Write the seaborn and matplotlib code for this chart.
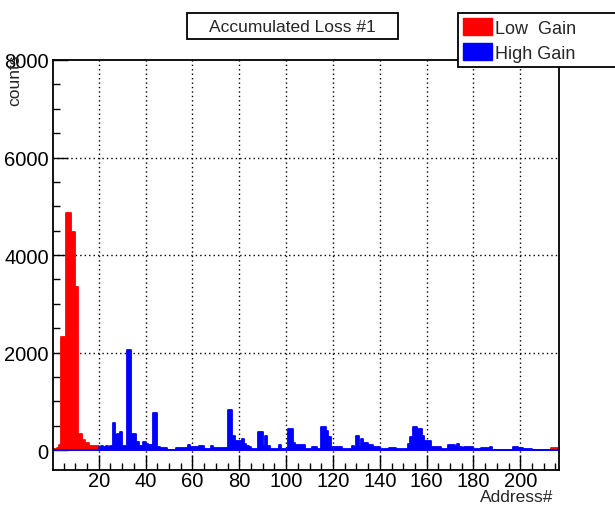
import numpy as np
import pandas as pd
import matplotlib
matplotlib.use("Agg")
import matplotlib.pyplot as plt
from matplotlib.patches import Patch, Rectangle
from matplotlib.ticker import MultipleLocator
import seaborn as sns

# ---------------- data ----------------
addresses = list(range(0, 217))

low_gain = [
    0, 30, 40, 110, 2310, 2310, 4860, 4860, 4480, 4480,
    3340, 330, 330, 200, 150, 150, 80, 80, 80, 80,
    0, 0, 0, 0, 0, 0, 0, 0, 0, 0,
    0, 0, 0, 0, 0, 0, 0, 0, 0, 0,
    0, 0, 0, 0, 0, 0, 0, 0, 0, 0,
    0, 0, 0, 0, 0, 0, 0, 0, 0, 0,
    0, 0, 0, 0, 0, 0, 0, 0, 0, 0,
    0, 0, 0, 0, 0, 0, 0, 0, 0, 0,
    0, 0, 0, 0, 0, 0, 0, 0, 0, 0,
    0, 0, 0, 0, 0, 0, 0, 0, 0, 0,
    0, 0, 0, 0, 0, 0, 0, 0, 0, 0,
    0, 0, 0, 0, 0, 0, 0, 0, 0, 0,
    0, 0, 0, 0, 0, 0, 0, 0, 0, 0,
    0, 0, 0, 0, 0, 0, 0, 0, 0, 0,
    0, 0, 0, 0, 0, 0, 0, 0, 0, 0,
    0, 0, 0, 0, 0, 0, 0, 0, 0, 0,
    0, 0, 0, 0, 0, 0, 0, 0, 0, 0,
    0, 0, 0, 0, 0, 0, 0, 0, 0, 0,
    0, 0, 0, 0, 0, 0, 0, 0, 0, 0,
    0, 0, 0, 0, 0, 0, 0, 0, 0, 0,
    0, 0, 0, 0, 0, 0, 0, 0, 0, 0,
    0, 0, 0, 50, 50, 50, 50,
]

high_gain = [
    0, 0, 0, 0, 0, 0, 0, 0, 0, 0,
    0, 0, 0, 0, 0, 0, 0, 0, 0, 0,
    70, 80, 60, 80, 70, 80, 550, 300, 330, 370,
    80, 80, 2060, 2060, 330, 330, 160, 75, 75, 170,
    120, 110, 110, 765, 765, 68, 40, 40, 40, 0,
    0, 0, 0, 40, 40, 40, 40, 40, 105, 58,
    58, 58, 58, 80, 80, 20, 20, 20, 75, 40,
    40, 40, 40, 40, 40, 815, 815, 295, 185, 185,
    185, 225, 120, 90, 60, 25, 25, 25, 360, 360,
    75, 295, 75, 25, 25, 25, 25, 105, 22, 22,
    22, 440, 440, 140, 110, 110, 95, 95, 22, 22,
    22, 72, 72, 24, 24, 480, 480, 380, 270, 60,
    60, 60, 60, 60, 27, 27, 27, 27, 80, 55,
    295, 55, 225, 150, 150, 105, 105, 68, 68, 68,
    25, 25, 25, 25, 41, 41, 41, 25, 25, 25,
    25, 25, 123, 275, 465, 465, 440, 440, 280, 190,
    190, 190, 70, 70, 70, 70, 25, 25, 25, 103,
    103, 103, 55, 130, 60, 41, 68, 55, 55, 55,
    14, 14, 14, 41, 41, 41, 41, 68, 10, 10,
    10, 10, 10, 10, 10, 10, 10, 68, 68, 41,
    41, 27, 27, 27, 27, 0, 0, 0, 0, 0,
    0, 0, 0, 0, 0, 0, 0,
]

title_text = "Accumulated Loss #1"
legend_labels = ["Low  Gain", "High Gain"]
series_colors = ["#ff0000", "#0000ff"]
x_label = "Address#"
y_label = "counts"
x_ticks = [20, 40, 60, 80, 100, 120, 140, 160, 180, 200]
y_ticks = [0, 2000, 4000, 6000, 8000]

# ---------------- style ----------------
sns.set_theme(style="white")
plt.rcParams['font.family'] = ['Liberation Sans', 'DejaVu Sans']
FS = 13
TICK_FS = 14.5

df = pd.DataFrame({
    "address": np.array(addresses) + 0.5,
    "low": low_gain,
    "high": high_gain,
})
edges = list(addresses) + [addresses[-1] + 1]

fig = plt.figure(figsize=(6.15, 5.06), dpi=100)
W, H = 615, 506
ax = fig.add_axes([53 / W, 1 - 471 / H, (559 - 53) / W, (471 - 61) / H])

sns.histplot(data=df, x="address", weights="low", bins=edges, element="step",
             fill=True, color=series_colors[0], alpha=1, edgecolor=series_colors[0],
             linewidth=1.3, ax=ax, zorder=1)
sns.histplot(data=df, x="address", weights="high", bins=edges, element="step",
             fill=True, color=series_colors[1], alpha=1, edgecolor=series_colors[1],
             linewidth=1.3, ax=ax, zorder=1.1)

ax.set_xlim(0.5, 216.5)
ax.set_ylim(-410, 8000)

# dotted grid under the histogram
for xv in x_ticks:
    ax.axvline(xv, color="black", lw=1.0, ls=(0, (1, 2.2)), zorder=0.5)
for yv in y_ticks[1:-1]:
    ax.axhline(yv, color="black", lw=1.0, ls=(0, (1, 2.2)), zorder=0.5)

ax.set_xticks(x_ticks)
ax.set_yticks(y_ticks)
ax.xaxis.set_minor_locator(MultipleLocator(5))
ax.yaxis.set_minor_locator(MultipleLocator(500))
ax.tick_params(axis="both", which="major", direction="in", length=10.5, width=1.0,
               color="black", labelsize=TICK_FS, labelcolor="black")
ax.tick_params(axis="both", which="minor", direction="in", length=5.2, width=1.0,
               color="black")
ax.tick_params(axis="x", which="both", pad=0.5, bottom=True, top=False)
ax.tick_params(axis="y", which="both", pad=3, left=True, right=False)

for s in ax.spines.values():
    s.set_visible(True)
    s.set_color("black")
    s.set_linewidth(1.3)
    s.set_zorder(3)

ax.set_xlabel(x_label, fontsize=FS - 0.5, loc="right")
ax.xaxis.set_label_coords((553 - 53) / 506, (471 - 490) / 410)
ax.set_ylabel(y_label, fontsize=FS - 0.5, loc="top")
ax.yaxis.set_label_coords((22 - 53) / 506, (471 - 55) / 410)

# title box
fig.patches.append(Rectangle((187 / W, 1 - 40 / H), 211 / W, 26 / H,
                             transform=fig.transFigure, facecolor="white",
                             edgecolor="black", lw=1.3))
fig.text(292.5 / W, 1 - 27 / H, title_text, ha="center", va="center", fontsize=FS - 0.5)

# legend
handles = [Patch(facecolor=c, edgecolor=c) for c in series_colors]
leg = fig.legend(handles, legend_labels, loc="upper left",
                 bbox_to_anchor=(458 / W, 1 - 65 / H, 0.4, 51 / H), mode="expand",
                 borderaxespad=0, fontsize=FS, handlelength=1.6, handleheight=1.05,
                 handletextpad=0.15, borderpad=0.3, labelspacing=0.35,
                 frameon=True, fancybox=False, framealpha=1)
leg.get_frame().set_edgecolor("black")
leg.get_frame().set_linewidth(1.3)

fig.savefig("out.png", dpi=100)
